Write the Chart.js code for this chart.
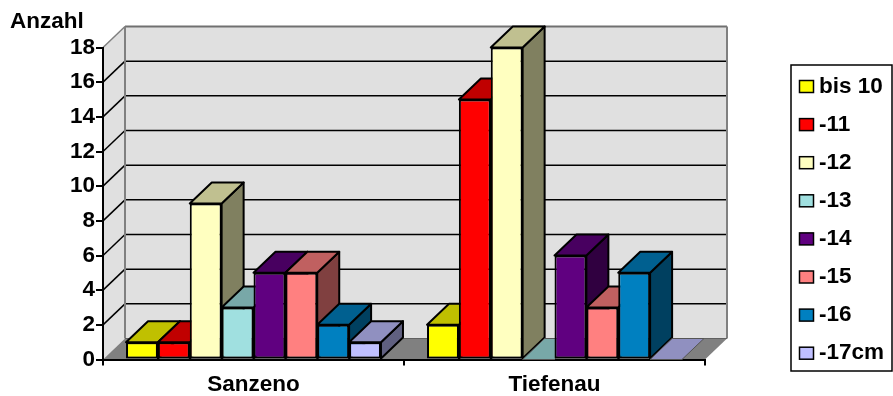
<!DOCTYPE html>
<html>
<head>
<meta charset="utf-8">
<title>Anzahl</title>
<style>
    html, body { margin: 0; padding: 0; background: #fff; }
    canvas { display: block; }
</style>
</head>
<body>
<canvas id="lengthChart" width="893" height="396"></canvas>
<script src="https://cdn.jsdelivr.net/npm/chart.js@4/dist/chart.umd.js"></script>
<script>
'use strict';

var sites = ['Sanzeno', 'Tiefenau'];
var sizeClasses = ['bis 10', '-11', '-12', '-13', '-14', '-15', '-16', '-17cm'];
var sanzenoCounts = [1, 1, 9, 3, 5, 5, 2, 1];
var tiefenauCounts = [2, 15, 18, 0, 6, 3, 5, 0];

var frontColors = ['#FFFF00', '#FF0000', '#FFFFC0', '#A0E0E0', '#600080', '#FF8080', '#0080C0', '#C0C0FF'];
var topColors = ['#C0C000', '#C00000', '#C0C090', '#78A8A8', '#480060', '#C06060', '#006090', '#9090C0'];
var sideColors = ['#808000', '#800000', '#808060', '#507070', '#300040', '#804040', '#004060', '#606080'];

var FONT = 'bold 22.5px "Liberation Sans", Arial, sans-serif';
var DEPTH_X = 22;
var DEPTH_Y = 21;

function polygon (ctx, points, fill, stroke, lineWidth) {
    ctx.beginPath();
    points.forEach(function addPoint (p, i) {
        if (i === 0) {
            ctx.moveTo(p[0], p[1]);
        } else {
            ctx.lineTo(p[0], p[1]);
        }
    });
    ctx.closePath();
    ctx.fillStyle = fill;
    ctx.fill();
    if (stroke) {
        ctx.strokeStyle = stroke;
        ctx.lineWidth = lineWidth;
        ctx.stroke();
    }
}

function line (ctx, x1, y1, x2, y2, color, width) {
    ctx.beginPath();
    ctx.moveTo(x1, y1);
    ctx.lineTo(x2, y2);
    ctx.strokeStyle = color;
    ctx.lineWidth = width;
    ctx.stroke();
}

// back wall, side wall and floor
var wallsPlugin = {
    id: 'walls',
    beforeDraw: function drawWalls (chart) {
        var ctx = chart.ctx;
        var area = chart.chartArea;
        var yScale = chart.scales.y;

        ctx.save();
        polygon(ctx, [
            [area.left, area.top],
            [area.left + DEPTH_X, area.top - DEPTH_Y],
            [area.right + DEPTH_X, area.top - DEPTH_Y],
            [area.right + DEPTH_X, area.bottom - DEPTH_Y],
            [area.left + DEPTH_X, area.bottom - DEPTH_Y],
            [area.left, area.bottom]
        ], '#E0E0E0');
        polygon(ctx, [
            [area.left, area.bottom],
            [area.left + DEPTH_X, area.bottom - DEPTH_Y],
            [area.right + DEPTH_X, area.bottom - DEPTH_Y],
            [area.right, area.bottom]
        ], '#808080');

        yScale.ticks.forEach(function drawGridLine (tick) {
            var y = yScale.getPixelForValue(tick.value);

            if (tick.value === 0 || tick.value === 18) {
                return;
            }
            line(ctx, area.left, y, area.left + DEPTH_X, y - DEPTH_Y, '#000', 1.5);
            line(ctx, area.left + DEPTH_X, y - DEPTH_Y, area.right + DEPTH_X, y - DEPTH_Y, '#000', 1.5);
        });

        line(ctx, area.left, area.top, area.left + DEPTH_X, area.top - DEPTH_Y, '#808080', 1.5);
        line(ctx, area.left + DEPTH_X, area.top - DEPTH_Y, area.right + DEPTH_X, area.top - DEPTH_Y, '#707070', 2);
        line(ctx, area.left + DEPTH_X, area.top - DEPTH_Y, area.left + DEPTH_X, area.bottom - DEPTH_Y, '#808080', 2);
        line(ctx, area.right + DEPTH_X, area.top - DEPTH_Y, area.right + DEPTH_X, area.bottom - DEPTH_Y, '#808080', 2);
        line(ctx, area.left + DEPTH_X, area.bottom - DEPTH_Y, area.right + DEPTH_X, area.bottom - DEPTH_Y, '#606060', 1);
        ctx.restore();
    }
};

// bars go left to right so that each one covers the side of the one before
var boxesPlugin = {
    id: 'boxes',
    beforeDatasetsDraw: function drawBoxes (chart) {
        var ctx = chart.ctx;

        chart.data.datasets.forEach(function drawDataset (dataset, datasetIndex) {
            chart.getDatasetMeta(datasetIndex).data.forEach(function drawBox (bar) {
                var left = bar.x - bar.width / 2;
                var right = bar.x + bar.width / 2;

                ctx.save();
                ctx.lineJoin = 'round';
                if (bar.base - bar.y > 0) {
                    polygon(ctx, [
                        [right, bar.y],
                        [right + DEPTH_X, bar.y - DEPTH_Y],
                        [right + DEPTH_X, bar.base - DEPTH_Y],
                        [right, bar.base]
                    ], sideColors[datasetIndex], '#000', 2);
                    polygon(ctx, [
                        [left, bar.y],
                        [left + DEPTH_X, bar.y - DEPTH_Y],
                        [right + DEPTH_X, bar.y - DEPTH_Y],
                        [right, bar.y]
                    ], topColors[datasetIndex], '#000', 2);
                } else {
                    polygon(ctx, [
                        [left, bar.y],
                        [left + DEPTH_X, bar.y - DEPTH_Y],
                        [right + DEPTH_X, bar.y - DEPTH_Y],
                        [right, bar.y]
                    ], topColors[datasetIndex], '#555', 1);
                }
                ctx.restore();
                if (bar.base - bar.y > 0) {
                    bar.draw(ctx);
                }
            });
        });
        return false;
    }
};

var legendBoxPlugin = {
    id: 'legendBox',
    afterDraw: function drawLegendBox (chart) {
        var ctx = chart.ctx;

        ctx.save();
        ctx.strokeStyle = '#000';
        ctx.lineWidth = 1.5;
        ctx.strokeRect(791, 65, 101, 306);
        ctx.font = FONT;
        ctx.textBaseline = 'middle';
        sizeClasses.forEach(function drawEntry (label, i) {
            var y = 86.5 + i * 38.1;

            ctx.fillStyle = frontColors[i];
            ctx.fillRect(799.5, y - 6, 14, 12);
            ctx.strokeStyle = '#000';
            ctx.lineWidth = 1.5;
            ctx.strokeRect(799.5, y - 6, 14, 12);
            ctx.fillStyle = '#000';
            ctx.fillText(label, 819, y);
        });
        ctx.restore();
    }
};

var datasets = sizeClasses.map(function buildDataset (label, i) {
    return {
        label: label,
        data: [sanzenoCounts[i], tiefenauCounts[i]],
        backgroundColor: frontColors[i],
        borderColor: '#000',
        borderWidth: 2,
        borderSkipped: false
    };
});

var axisFont = { family: '"Liberation Sans", Arial, sans-serif', size: 22.5, weight: 'bold' };

new Chart(document.getElementById('lengthChart').getContext('2d'), {
    type: 'bar',
    data: {
        labels: sites,
        datasets: datasets
    },
    options: {
        responsive: false,
        animation: false,
        categoryPercentage: 0.847,
        barPercentage: 1,
        layout: {
            padding: { left: 10, right: 188, top: 0, bottom: 0 }
        },
        plugins: {
            legend: { display: false },
            tooltip: { enabled: false },
            title: {
                display: true,
                text: 'Anzahl',
                align: 'start',
                color: '#000',
                font: axisFont,
                padding: { top: 8, bottom: 12.5 }
            }
        },
        scales: {
            x: {
                offset: true,
                afterFit: function fixHeight (scale) {
                    scale.height = 36.5;
                },
                border: { color: '#000', width: 2 },
                grid: {
                    offset: true,
                    drawOnChartArea: false,
                    color: '#000',
                    lineWidth: 2,
                    tickLength: 6
                },
                ticks: {
                    color: '#000',
                    font: axisFont,
                    padding: 6,
                    maxRotation: 0
                }
            },
            y: {
                min: 0,
                max: 18,
                afterFit: function fixWidth (scale) {
                    scale.width = 93;
                },
                border: { color: '#000', width: 2 },
                grid: {
                    drawOnChartArea: false,
                    color: '#000',
                    lineWidth: 2,
                    tickLength: 7
                },
                ticks: {
                    stepSize: 2,
                    color: '#000',
                    font: axisFont,
                    padding: 1
                }
            }
        }
    },
    plugins: [wallsPlugin, boxesPlugin, legendBoxPlugin]
});
</script>
</body>
</html>
